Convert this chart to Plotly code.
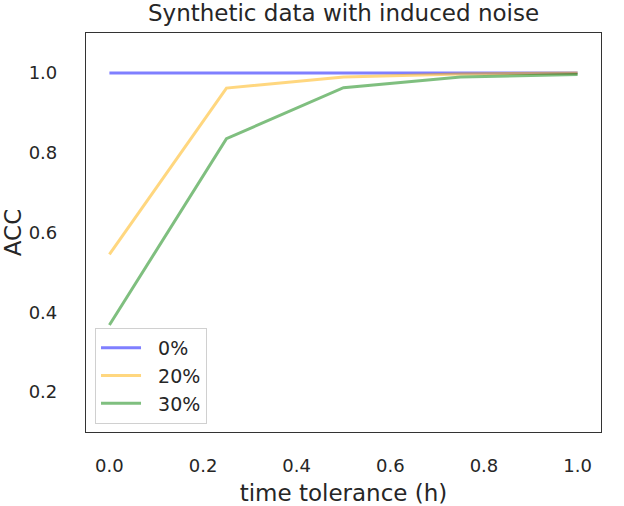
import plotly.graph_objects as go

tolerance = [0.0, 0.25, 0.5, 0.75, 1.0]
acc_0 = [1.0, 1.0, 1.0, 1.0, 1.0]
acc_20 = [0.545, 0.962, 0.99, 0.997, 1.0]
acc_30 = [0.368, 0.835, 0.963, 0.99, 0.996]
names = ["0%", "20%", "30%"]
colors = ["rgba(0,0,255,0.5)", "rgba(255,175,0,0.5)", "rgba(0,128,0,0.5)"]

fig = go.Figure()
for name, ys, c in zip(names, [acc_0, acc_20, acc_30], colors):
    fig.add_trace(go.Scatter(x=tolerance, y=ys, mode="lines", name="\u00a0\u00a0" + name,
                             line=dict(color=c, width=3)))

axis_common = dict(showgrid=False, zeroline=False, showline=True, mirror=True,
                   linecolor="#333333", linewidth=1.2, ticks="", automargin=False,
                   tickfont=dict(size=18, color="#262626"))
fig.update_layout(
    width=624, height=506,
    margin=dict(l=86, r=23, t=33, b=74),
    plot_bgcolor="white", paper_bgcolor="white",
    font=dict(family="DejaVu Sans", color="#262626"),
    title=dict(text="Synthetic data with induced noise", x=0.5, xref="paper", xanchor="center",
               y=0.99, yanchor="top", font=dict(size=23)),
    xaxis=dict(range=[-0.05, 1.05], tickvals=[0, 0.2, 0.4, 0.6, 0.8, 1.0],
               ticktext=["0.0", "0.2", "0.4", "0.6", "0.8", "1.0"],
               ticklabelstandoff=17,
               title=dict(text="time tolerance (h)", font=dict(size=23), standoff=11),
               **axis_common),
    yaxis=dict(range=[0.1, 1.1], tickvals=[0.2, 0.4, 0.6, 0.8, 1.0],
               ticktext=["0.2", "0.4", "0.6", "0.8", "1.0"],
               ticklabelstandoff=24,
               title=dict(text="ACC", font=dict(size=23), standoff=10),
               **axis_common),
    legend=dict(x=0.0175, y=0.02, xanchor="left", yanchor="bottom",
                bordercolor="#d0d0d0", borderwidth=1, bgcolor="rgba(255,255,255,0.8)",
                font=dict(size=19), itemwidth=40, tracegroupgap=0),
    showlegend=True,
)
fig.write_html("out.html")
